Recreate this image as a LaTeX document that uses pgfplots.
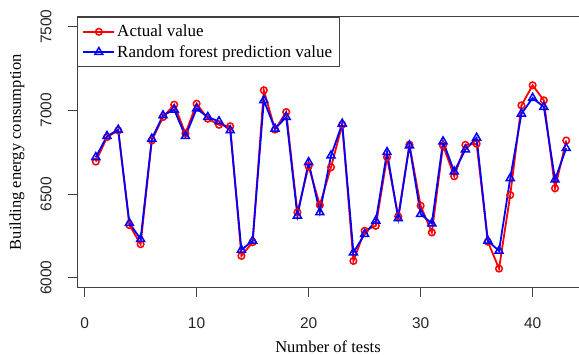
\documentclass[border=0pt]{standalone}
\usepackage{fontspec}
\setmainfont{Liberation Serif}
\newfontfamily\arial{Liberation Sans}
\usepackage{pgfplots}
\usepackage{pgfplotstable}
\pgfplotsset{compat=1.18}
\usetikzlibrary{calc}
\pgfplotstableread{
x act pred
1 6694 6720
2 6840 6846
3 6880 6884
4 6314 6326
5 6200 6230
6 6820 6830
7 6960 6970
8 7034 7004
9 6862 6846
10 7040 7010
11 6950 6960
12 6914 6934
13 6905 6880
14 6130 6166
15 6212 6220
16 7120 7060
17 6885 6890
18 6990 6960
19 6390 6370
20 6666 6690
21 6434 6390
22 6660 6730
23 6915 6920
24 6100 6150
25 6280 6260
26 6310 6340
27 6720 6750
28 6366 6354
29 6795 6790
30 6430 6380
31 6270 6324
32 6790 6814
33 6606 6634
34 6794 6766
35 6800 6836
36 6215 6220
37 6054 6160
38 6494 6594
39 7030 6980
40 7150 7074
41 7060 7020
42 6534 6586
43 6820 6774
}\data
\begin{document}
\begin{tikzpicture}
\begin{axis}[name=ax, scale only axis, width=502pt, height=271pt,
 xmin=-0.68, xmax=44.14, ymin=5940, ymax=7560,
 axis x line*=bottom, axis y line*=left,
 axis line style={black!75, line width=0.9pt, -},
 tick style={black!75, line width=0.9pt}, tick align=outside, major tick length=9pt,
 xtick={0,10,20,30,40}, ytick={6000,6500,7000,7500},
 /pgf/number format/assume math mode=true,
 /pgf/number format/set thousands separator={},
 tick label style={font=\arial\fontsize{15.5}{18}\selectfont, text=black!85},
 xticklabel style={anchor=center, yshift=-26pt},
 yticklabel style={xshift=-22pt, rotate=90, anchor=center},
 xlabel={Number of tests},
 ylabel={Building energy consumption},
 label style={font=\fontsize{16.5}{19}\selectfont},
 xlabel style={at={(axis description cs:0.5,0)}, anchor=center, yshift=-59pt},
 ylabel style={at={(axis description cs:-0.1195,0.5)}, anchor=center},
 legend style={at={(0,1)}, anchor=north west, draw=black!75, line width=0.9pt,
   font=\fontsize{17}{20}\selectfont, inner xsep=5pt, inner ysep=6pt,
   row sep=3pt},
 legend cell align=left,
 legend image code/.code={\draw[#1, mark repeat=2, mark phase=2] plot coordinates {(0pt,0pt) (15.5pt,0pt) (31pt,0pt)};},
 clip=false,
]
\addplot[red, line width=1.8pt, mark=o, mark size=3.3pt, mark options={line width=1.5pt, solid}] table[x=x, y=act] {\data};
\addlegendentry{Actual value}
\addplot[blue, line width=1.8pt, mark=triangle, mark size=4.6pt, mark options={line width=1.5pt, solid}] table[x=x, y=pred] {\data};
\addlegendentry{Random forest prediction value}
\end{axis}
\draw[black!75, line width=0.9pt] (ax.north west) -- (ax.north east);
\pgfresetboundingbox
\path ($(ax.south west)+(-77pt,-67pt)$) rectangle ($(ax.north east)+(0pt,16.7pt)$);
\end{tikzpicture}
\end{document}
